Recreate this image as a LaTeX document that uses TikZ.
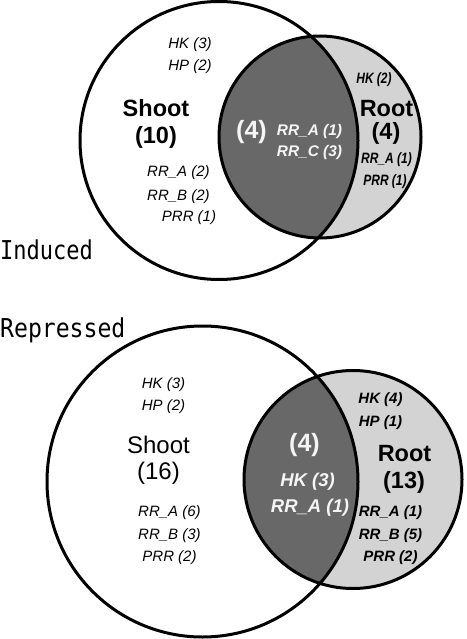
\documentclass[tikz,border=0pt]{standalone}
\usepackage{fontspec}
\setmainfont{Liberation Sans}
\newfontfamily\labelfont{DejaVu Sans Mono}
\definecolor{darkfill}{RGB}{104,104,104}
\definecolor{lightfill}{RGB}{211,211,211}
\definecolor{whitetext}{RGB}{245,245,245}
\tikzset{
  ring/.style={draw=black, line width=3pt},
  gen/.style={inner sep=0pt, font=\fontsize{15}{18}\selectfont\itshape},
  genb/.style={inner sep=0pt, font=\fontsize{15}{18}\selectfont\bfseries\itshape},
  genw/.style={inner sep=0pt, text=whitetext, font=\fontsize{15.4}{18}\selectfont\bfseries\itshape},
  genwl/.style={inner sep=0pt, text=whitetext, font=\fontsize{18.5}{22}\selectfont\bfseries\itshape},
  titleb/.style={inner sep=0pt, font=\fontsize{23.5}{28}\selectfont\bfseries},
  titler/.style={inner sep=0pt, font=\fontsize{24}{28}\selectfont},
  titlew/.style={inner sep=0pt, text=whitetext, font=\fontsize{25}{28}\selectfont\bfseries},
  panel/.style={inner sep=0pt, anchor=base west, font=\labelfont\fontsize{22}{26}\selectfont}
}
\begin{document}
\begin{tikzpicture}[x=1pt,y=-1pt]
\useasboundingbox (0,0) rectangle (466,639);
% ---------- Induced ----------
\fill[lightfill] (320,137) circle (101pt);
\begin{scope}
  \clip (320,137) circle (101pt);
  \fill[darkfill] (219,140.5) circle (139pt);
\end{scope}
\draw[ring] (219,140.5) circle (139pt);
\draw[ring] (320,137) circle (101pt);
% ---------- Repressed ----------
\fill[lightfill] (353,479.5) circle (109pt);
\begin{scope}
  \clip (353,479.5) circle (109pt);
  \fill[darkfill] (202.5,481.5) circle (155.5pt);
\end{scope}
\draw[ring] (202.5,481.5) circle (155.5pt);
\draw[ring] (353,479.5) circle (109pt);

% Induced texts
\node[gen] (ihk) at (190,45) {HK (3)};
\node[gen] (ihp) at (190,67) {HP (2)};
\node[titleb] (ishoot) at (156,108) {Shoot};
\node[titleb] (ishootn) at (156,137) {(10)};
\node[gen] (irra) at (178.5,173) {RR\_A (2)};
\node[gen] (irrb) at (178.5,197) {RR\_B (2)};
\node[gen] (iprr) at (189,218) {PRR (1)};
\node[titlew] (iboth) at (251.5,132) {(4)};
\node[genw] (ibrra) at (309.5,132) {RR\_A (1)};
\node[genw] (ibrrc) at (309.5,153) {RR\_C (3)};
\node[genb] (irhk) at (374,80) {\scalebox{0.8}[1]{HK (2)}};
\node[titleb] (iroot) at (386.5,108.5) {Root};
\node[titleb] (irootn) at (386,133) {(4)};
\node[genb] (irrra) at (386.5,160) {\scalebox{0.8}[1]{RR\_A (1)}};
\node[genb] (irprr) at (385,182) {\scalebox{0.8}[1]{PRR (1)}};
\node[panel] (induced) at (0,259) {\scalebox{1.0}[1.18]{Induced}};

% Repressed texts
\node[gen] (rhk) at (163.5,385) {HK (3)};
\node[gen] (rhp) at (163.5,407) {HP (2)};
\node[titler] (rshoot) at (158.5,445) {Shoot};
\node[titler] (rshootn) at (158.5,473) {(16)};
\node[gen] (rrra) at (169.5,513) {RR\_A (6)};
\node[gen] (rrrb) at (169.5,536) {RR\_B (3)};
\node[gen] (rprr) at (169.5,558) {PRR (2)};
\node[titlew] (rboth) at (304.5,445) {(4)};
\node[genwl] (rbhk) at (307.5,482) {HK (3)};
\node[genwl] (rbrra) at (310,508) {RR\_A (1)};
\node[genb] (rrhk) at (380.5,400) {HK (4)};
\node[genb] (rrhp) at (380.5,423) {HP (1)};
\node[titleb] (rroot) at (404.5,454) {Root};
\node[titleb] (rrootn) at (404,482) {(13)};
\node[genb] (rrrra) at (390.5,513) {RR\_A (1)};
\node[genb] (rrrrb) at (390.5,536) {RR\_B (5)};
\node[genb] (rrprr) at (390.5,558) {PRR (2)};
\node[panel] (repressed) at (0,337) {\scalebox{1.05}[1.18]{Repressed}};
\end{tikzpicture}
\end{document}
